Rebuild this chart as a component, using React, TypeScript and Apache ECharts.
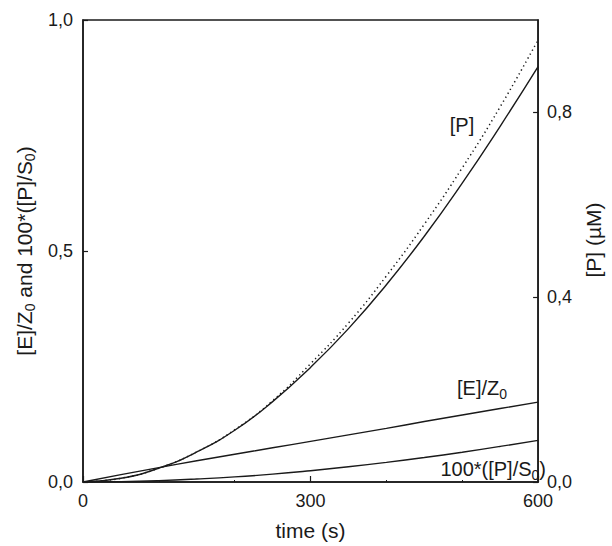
import React, { useEffect, useRef } from "react";
import * as echarts from "echarts";

const times = [0, 50, 100, 150, 200, 250, 300, 350, 400, 450, 500, 550, 600];
const pSolid = [0, 0.008, 0.03, 0.065, 0.112, 0.174, 0.248, 0.332, 0.427, 0.532, 0.647, 0.77, 0.899];
const pDotted = [0, 0.008, 0.03, 0.065, 0.113, 0.176, 0.256, 0.344, 0.446, 0.558, 0.68, 0.812, 0.957];
const eRatio = [0, 0.016, 0.031, 0.046, 0.06, 0.074, 0.088, 0.102, 0.116, 0.131, 0.145, 0.159, 0.173];
const pFraction = [0, 0.0008, 0.003, 0.0065, 0.011, 0.017, 0.0245, 0.033, 0.0425, 0.053, 0.0645, 0.077, 0.09];

const xTicks = [0, 300, 600];
const leftTicks = [0, 0.5, 1.0];
const rightTicks = [0, 0.4, 0.8];

const FONT = "'Liberation Sans', Arial, sans-serif";
const INK = "#1a1a1a";

const pairs = (ys: number[]) => times.map((t, i) => [t, ys[i]]);
const comma = (v: number) => v.toFixed(1).replace(".", ",");

const subRich = {
  sub: { fontSize: 14, fontFamily: FONT, color: INK, padding: [11, 0, 0, 0], lineHeight: 14 },
};

export default function App() {
  const ref = useRef<HTMLDivElement>(null);
  useEffect(() => {
    if (!ref.current) return;
    const chart = echarts.init(ref.current, undefined, { renderer: "svg" });
    chart.setOption({
      animation: false,
      backgroundColor: "#ffffff",
      textStyle: { fontFamily: FONT, color: INK },
      grid: {
        left: 83,
        right: 65,
        top: 20,
        bottom: 63,
        show: true,
        borderColor: INK,
        borderWidth: 1.5,
      },
      xAxis: {
        type: "value",
        min: xTicks[0],
        max: xTicks[xTicks.length - 1],
        interval: 300,
        name: "time (s)",
        nameLocation: "middle",
        nameGap: 38,
        nameTextStyle: { fontSize: 21, fontFamily: FONT, color: INK },
        axisLine: { show: true, lineStyle: { color: INK, width: 1.5 } },
        axisTick: { show: true, inside: true, length: 6, lineStyle: { color: INK, width: 1.2 } },
        minorTick: { show: true, splitNumber: 3, length: 2, lineStyle: { color: INK, width: 1 } },
        splitLine: { show: false },
        axisLabel: { fontSize: 18, fontFamily: FONT, color: INK, margin: 10 },
      },
      yAxis: [
        {
          type: "value",
          position: "left",
          min: leftTicks[0],
          max: leftTicks[leftTicks.length - 1],
          interval: 0.5,
          name: "[E]/Z{sub|0} and 100*([P]/S{sub|0})",
          nameLocation: "middle",
          nameGap: 48,
          nameRotate: 90,
          nameTextStyle: { fontSize: 21, fontFamily: FONT, color: INK, rich: subRich },
          axisLine: { show: true, lineStyle: { color: INK, width: 1.5 } },
          axisTick: { show: true, inside: true, length: 5, lineStyle: { color: INK, width: 1.2 } },
          splitLine: { show: false },
          axisLabel: { fontSize: 18, fontFamily: FONT, color: INK, margin: 10, formatter: comma },
        },
        {
          type: "value",
          position: "right",
          min: rightTicks[0],
          max: 1,
          interval: 0.4,
          name: "[P] (µM)",
          nameLocation: "middle",
          nameGap: 44,
          nameRotate: 90,
          nameTextStyle: { fontSize: 21, fontFamily: FONT, color: INK, padding: [0, 0, 0, 22] },
          axisLine: { show: true, lineStyle: { color: INK, width: 1.5 } },
          axisTick: { show: true, inside: true, length: 5, lineStyle: { color: INK, width: 1.2 } },
          splitLine: { show: false },
          axisLabel: { fontSize: 18, fontFamily: FONT, color: INK, margin: 9, formatter: comma, showMaxLabel: false },
        },
      ],
      series: [
        {
          type: "line",
          name: "[P] dotted",
          yAxisIndex: 1,
          data: pairs(pDotted),
          smooth: true,
          symbol: "none",
          lineStyle: { color: INK, width: 1.5, type: [1.3, 3.2] },
        },
        {
          type: "line",
          name: "[P]",
          yAxisIndex: 1,
          data: pairs(pSolid),
          smooth: true,
          symbol: "none",
          lineStyle: { color: INK, width: 1.4 },
        },
        {
          type: "line",
          name: "[E]/Z0",
          yAxisIndex: 0,
          data: pairs(eRatio),
          smooth: true,
          symbol: "none",
          lineStyle: { color: INK, width: 1.4 },
        },
        {
          type: "line",
          name: "100*([P]/S0)",
          yAxisIndex: 0,
          data: pairs(pFraction),
          smooth: true,
          symbol: "none",
          lineStyle: { color: INK, width: 1.4 },
        },
      ],
      graphic: [
        {
          type: "text",
          x: 462,
          y: 125,
          style: {
            text: "[P]",
            fontSize: 20,
            fontFamily: FONT,
            fill: INK,
            align: "center",
            verticalAlign: "middle",
          },
        },
        {
          type: "text",
          x: 457,
          y: 388,
          style: {
            text: "[E]/Z{sub|0}",
            fontSize: 20,
            fontFamily: FONT,
            fill: INK,
            align: "left",
            verticalAlign: "middle",
            rich: subRich,
          },
        },
        {
          type: "text",
          x: 546,
          y: 469,
          style: {
            text: "100*([P]/S{sub|0})",
            fontSize: 20,
            fontFamily: FONT,
            fill: INK,
            align: "right",
            verticalAlign: "middle",
            rich: subRich,
          },
        },
      ],
    });
    return () => chart.dispose();
  }, []);
  return (
    <div
      ref={ref}
      style={{ position: "fixed", left: 0, top: 0, width: 612, height: 546, background: "#fff" }}
    />
  );
}
